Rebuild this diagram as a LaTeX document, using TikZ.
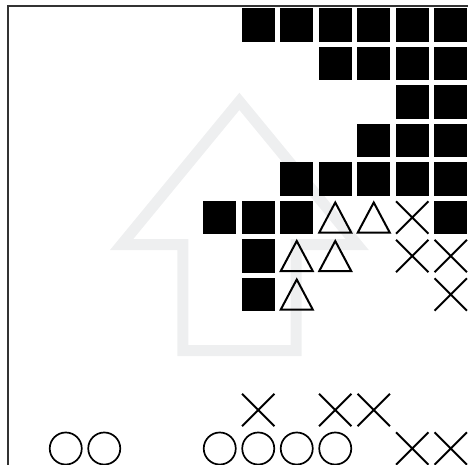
\documentclass[tikz,border=0pt]{standalone}
\definecolor{arrowgray}{RGB}{238,239,240}
\begin{document}
\begin{tikzpicture}[x=38.5pt, y=-38.5pt,
    frame/.style={line width=2.5pt, draw=black!80},
    bigarrow/.style={line width=11pt, draw=arrowgray, line join=miter},
    blk/.pic={\fill (-0.43,-0.43) rectangle (0.43,0.43);},
    tri/.pic={\draw[line width=2pt] (0,-0.39) -- (0.415,0.39) -- (-0.415,0.39) -- cycle;},
    cross/.pic={\draw[line width=2pt] (-0.42,-0.42) -- (0.42,0.42) (-0.42,0.42) -- (0.42,-0.42);},
    ring/.pic={\draw[line width=1.7pt] (0,0) circle (0.416);}]

    % Рамка картинки (правая и нижняя стороны обрезаны)
    \useasboundingbox (-0.7078,-0.6494) rectangle (11.4481,11.4026);
    \clip (-0.7078,-0.6494) rectangle (11.4481,11.4026);
    \draw[frame] (-0.5,-0.5) rectangle (11.5,11.5);

    % Светлая стрелка на фоне
    \draw[bigarrow] (5.51,1.984) -- (8.572,5.706) -- (6.986,5.706) -- (6.986,8.455)
        -- (4.04,8.455) -- (4.04,5.706) -- (2.448,5.706) -- cycle;

    % Черные квадраты, строки 0--4
    \path (6,0) pic {blk} (7,0) pic {blk} (8,0) pic {blk} (9,0) pic {blk} (10,0) pic {blk} (11,0) pic {blk};
    \path (8,1) pic {blk} (9,1) pic {blk} (10,1) pic {blk} (11,1) pic {blk};
    \path (10,2) pic {blk} (11,2) pic {blk};
    \path (9,3) pic {blk} (10,3) pic {blk} (11,3) pic {blk};
    \path (7,4) pic {blk} (8,4) pic {blk} (9,4) pic {blk} (10,4) pic {blk} (11,4) pic {blk};

    % Строка 5
    \path (5,5) pic {blk} (6,5) pic {blk} (7,5) pic {blk};
    \path (8,5) pic {tri} (9,5) pic {tri};
    \path (10,5) pic {cross} (11,5) pic {blk};

    % Строка 6
    \path (6,6) pic {blk} (7,6) pic {tri} (8,6) pic {tri};
    \path (10,6) pic {cross} (11,6) pic {cross};

    % Строка 7
    \path (6,7) pic {blk} (7,7) pic {tri} (11,7) pic {cross};

    % Нижние строки: крестики и кружки
    \path (6,10) pic {cross} (8,10) pic {cross} (9,10) pic {cross};
    \path (1,11) pic {ring} (2,11) pic {ring};
    \path (5,11) pic {ring} (6,11) pic {ring} (7,11) pic {ring} (8,11) pic {ring};
    \path (10,11) pic {cross} (11,11) pic {cross};

\end{tikzpicture}
\end{document}
